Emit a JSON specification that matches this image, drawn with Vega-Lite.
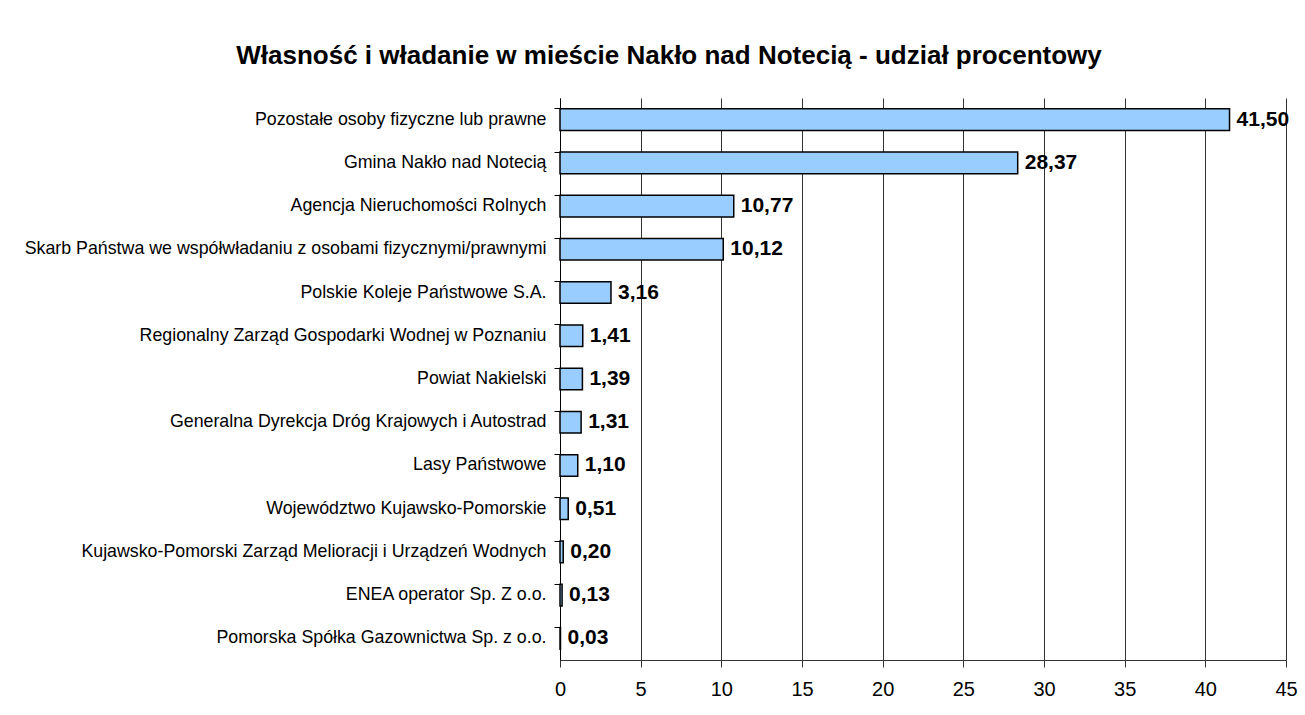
{
  "$schema": "https://vega.github.io/schema/vega-lite/v6.json",
  "width": 726,
  "height": 562,
  "autosize": {"type": "none"},
  "padding": {"left": 560, "top": 98, "right": 19, "bottom": 55},
  "background": "white",
  "title": {
    "text": "Własność i władanie w mieście Nakło nad Notecią - udział procentowy",
    "font": "Liberation Sans",
    "fontSize": 26,
    "fontWeight": "bold",
    "color": "black",
    "anchor": "middle",
    "frame": "group",
    "dx": -254,
    "baseline": "alphabetic",
    "offset": 8
  },
  "data": {
    "values": [
      {"kategoria": "Pozostałe osoby fizyczne lub prawne", "udzial": 41.50},
      {"kategoria": "Gmina Nakło nad Notecią", "udzial": 28.37},
      {"kategoria": "Agencja Nieruchomości Rolnych", "udzial": 10.77},
      {"kategoria": "Skarb Państwa we współwładaniu z osobami fizycznymi/prawnymi", "udzial": 10.12},
      {"kategoria": "Polskie Koleje Państwowe S.A.", "udzial": 3.16},
      {"kategoria": "Regionalny Zarząd Gospodarki Wodnej w Poznaniu", "udzial": 1.41},
      {"kategoria": "Powiat Nakielski", "udzial": 1.39},
      {"kategoria": "Generalna Dyrekcja Dróg  Krajowych i Autostrad", "udzial": 1.31},
      {"kategoria": "Lasy Państwowe", "udzial": 1.10},
      {"kategoria": "Województwo Kujawsko-Pomorskie", "udzial": 0.51},
      {"kategoria": "Kujawsko-Pomorski Zarząd Melioracji i Urządzeń Wodnych", "udzial": 0.20},
      {"kategoria": "ENEA operator Sp. Z o.o.", "udzial": 0.13},
      {"kategoria": "Pomorska Spółka Gazownictwa Sp. z o.o.", "udzial": 0.03}
    ]
  },
  "encoding": {
    "y": {
      "field": "kategoria",
      "type": "nominal",
      "sort": null,
      "scale": {"paddingInner": 0.5, "paddingOuter": 0.25},
      "axis": {
        "title": null,
        "bandPosition": 0,
        "domainColor": "black",
        "tickColor": "black",
        "tickSize": 6,
        "labelPadding": 8,
        "labelFont": "Liberation Sans",
        "labelFontSize": 17.8,
        "labelColor": "black",
        "labelLimit": 700,
        "grid": false
      }
    },
    "x": {
      "field": "udzial",
      "type": "quantitative",
      "scale": {"domain": [0, 45], "nice": false},
      "axis": {
        "title": null,
        "values": [0, 5, 10, 15, 20, 25, 30, 35, 40, 45],
        "format": "d",
        "grid": true,
        "gridColor": "#333333",
        "gridOpacity": 1,
        "domainColor": "#333333",
        "tickColor": "#333333",
        "tickSize": 7,
        "labelPadding": 12,
        "labelFlush": false,
        "labelFont": "Liberation Sans",
        "labelFontSize": 20,
        "labelColor": "black"
      }
    }
  },
  "layer": [
    {
      "mark": {"type": "bar", "fill": "#99CCFF", "stroke": "black", "strokeWidth": 1.5}
    },
    {
      "mark": {
        "type": "text",
        "align": "left",
        "baseline": "middle",
        "dx": 7,
        "font": "Liberation Sans",
        "fontSize": 21,
        "fontWeight": "bold",
        "color": "black"
      },
      "encoding": {
        "text": {"field": "udzial", "type": "quantitative", "format": ".2f"}
      }
    }
  ],
  "config": {
    "view": {"stroke": null},
    "locale": {
      "number": {
        "decimal": ",",
        "thousands": " ",
        "grouping": [3],
        "currency": ["", " zł"]
      }
    }
  }
}
